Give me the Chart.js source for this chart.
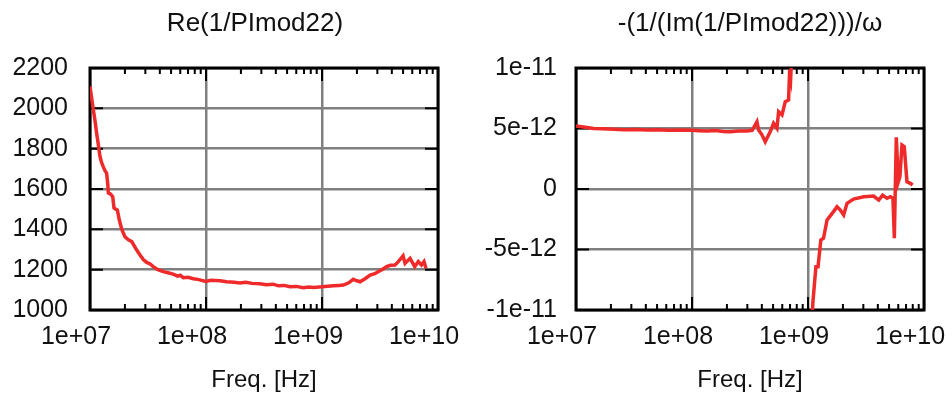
<!DOCTYPE html>
<html>
<head>
<meta charset="utf-8">
<title>PImod22</title>
<script src="https://cdn.jsdelivr.net/npm/chart.js@4/dist/chart.umd.min.js"></script>
<style>
  html, body { margin: 0; padding: 0; background: #fff; }
  #wrap { position: relative; width: 952px; height: 405px; }
  canvas { position: absolute; top: 0; }
  #reChart { left: 0; }
  #imChart { left: 476px; }
</style>
</head>
<body>
<div id="wrap">
  <canvas id="reChart" width="476" height="405"></canvas>
  <canvas id="imChart" width="476" height="405"></canvas>
</div>
<script>
// ---- data ----
const freqTicks = [1e7, 1e8, 1e9, 1e10];
const freqTickLabels = ['1e+07', '1e+08', '1e+09', '1e+10'];

const reTicks = [1000, 1200, 1400, 1600, 1800, 2000, 2200];
const reTickLabels = ['1000', '1200', '1400', '1600', '1800', '2000', '2200'];

const imTicks = [-1e-11, -5e-12, 0, 5e-12, 1e-11];
const imTickLabels = ['-1e-11', '-5e-12', '0', '5e-12', '1e-11'];

// Re(1/PImod22) versus frequency
const reFreq = [
  1.00e7, 1.04e7, 1.07e7, 1.11e7, 1.14e7, 1.18e7, 1.22e7, 1.26e7, 1.30e7, 1.35e7,
  1.39e7, 1.42e7, 1.44e7, 1.50e7, 1.57e7, 1.61e7, 1.67e7, 1.72e7, 1.79e7, 1.88e7,
  2.00e7, 2.12e7, 2.29e7, 2.48e7, 2.70e7, 2.88e7, 3.08e7, 3.30e7, 3.51e7, 3.85e7,
  4.28e7, 4.70e7, 5.20e7, 5.70e7, 6.00e7, 6.37e7, 7.00e7, 7.77e7, 8.50e7, 9.94e7,
  1.10e8, 1.32e8, 1.50e8, 1.75e8, 1.96e8, 2.20e8, 2.50e8, 2.92e8, 3.30e8, 3.80e8,
  4.20e8, 4.70e8, 5.30e8, 6.00e8, 6.90e8, 7.70e8, 8.50e8, 9.94e8, 1.12e9, 1.25e9,
  1.40e9, 1.53e9, 1.70e9, 1.86e9, 2.00e9, 2.13e9, 2.35e9, 2.60e9, 2.85e9, 3.16e9,
  3.40e9, 3.60e9, 3.90e9, 4.26e9, 4.55e9, 5.00e9, 5.20e9, 5.74e9, 6.30e9, 6.76e9,
  7.20e9, 7.57e9, 7.88e9
];
const reValue = [
  2110, 2040, 1990, 1930, 1878, 1820, 1760, 1730, 1711, 1690,
  1679, 1630, 1580, 1575, 1562, 1506, 1500, 1496, 1446, 1400,
  1363, 1350, 1339, 1305, 1273, 1250, 1236, 1228, 1215, 1200,
  1190, 1185, 1178, 1168, 1172, 1160, 1162, 1155, 1152, 1142,
  1147, 1145, 1140, 1138, 1134, 1138, 1132, 1130, 1125, 1128,
  1120, 1122, 1115, 1117, 1110, 1114, 1112, 1115, 1118, 1120,
  1122, 1124, 1135, 1152, 1145, 1140, 1155, 1173, 1180, 1195,
  1205, 1215, 1222, 1223, 1240, 1269, 1231, 1256, 1215, 1240,
  1223, 1240, 1207
];

// -(1/(Im(1/PImod22)))/omega versus frequency (null = break across the pole)
const imFreq = [
  1.00e7, 1.20e7, 1.42e7, 1.70e7, 2.11e7, 2.60e7, 3.20e7, 4.09e7, 5.00e7, 6.20e7,
  7.90e7, 1.00e8, 1.15e8, 1.35e8, 1.60e8, 1.85e8, 2.14e8, 2.50e8, 2.98e8, 3.30e8,
  3.63e8, 3.75e8, 4.00e8, 4.28e8, 4.73e8, 5.05e8, 5.40e8, 5.58e8, 5.97e8, 6.37e8,
  6.80e8, 6.95e8, 7.10e8, 7.40e8, 9.00e8, 1.05e9, 1.10e9, 1.17e9, 1.22e9, 1.29e9,
  1.36e9, 1.46e9, 1.66e9, 1.78e9, 1.90e9, 2.03e9, 2.17e9, 2.47e9, 3.02e9, 3.68e9,
  4.07e9, 4.40e9, 4.80e9, 5.13e9, 5.40e9, 5.55e9, 5.77e9, 6.01e9, 6.20e9, 6.46e9,
  6.76e9, 7.13e9, 7.62e9, 7.98e9
];
const imValue = [
  5.2e-12, 5.1e-12, 5.0e-12, 4.97e-12, 4.93e-12, 4.9e-12, 4.92e-12, 4.88e-12, 4.9e-12, 4.86e-12,
  4.88e-12, 4.85e-12, 4.82e-12, 4.79e-12, 4.83e-12, 4.76e-12, 4.74e-12, 4.8e-12, 4.79e-12, 4.85e-12,
  5.56e-12, 4.88e-12, 4.5e-12, 3.91e-12, 4.74e-12, 5.43e-12, 5.02e-12, 6.39e-12, 6.12e-12, 7.22e-12,
  7.36e-12, 9.83e-12, 9.28e-12, 1.3e-11, null, -1.4e-11, -9.45e-12, -6.42e-12, -6.42e-12, -4.21e-12,
  -4.07e-12, -2.56e-12, -1.87e-12, -1.46e-12, -1.74e-12, -2.15e-12, -1.18e-12, -8.3e-13, -6.4e-13, -5.8e-13,
  -9.1e-13, -5.0e-13, -7.7e-13, -6.4e-13, -7.7e-13, -4.07e-12, 4.27e-12, 6.0e-13, 1.02e-12, 3.64e-12,
  3.5e-12, 6.0e-13, 4.7e-13, 3.3e-13
];

// ---- styling ----
const FONT = '"Liberation Sans", Arial, sans-serif';
const TEXT = '#111';
const GRID = '#808080';
const LINE = '#ee2a2a';
const W = 476, H = 405;

// Frame, inward major/minor ticks and the panel title
const framePlugin = {
  id: 'gpFrame',
  beforeDatasetsDraw(chart) {
    const { ctx, chartArea: a, scales } = chart;
    const x = scales.x, y = scales.y;
    ctx.save();
    ctx.strokeStyle = '#000';
    ctx.lineWidth = 2;
    ctx.lineCap = 'butt';
    ctx.beginPath();
    // major x ticks (top and bottom)
    freqTicks.forEach(v => {
      const px = x.getPixelForValue(v);
      ctx.moveTo(px, a.top); ctx.lineTo(px, a.top + 13);
      ctx.moveTo(px, a.bottom); ctx.lineTo(px, a.bottom - 13);
    });
    // minor x ticks
    for (let d = 0; d < freqTicks.length - 1; d++) {
      for (let k = 2; k <= 9; k++) {
        const px = x.getPixelForValue(k * freqTicks[d]);
        ctx.moveTo(px, a.top); ctx.lineTo(px, a.top + 6);
        ctx.moveTo(px, a.bottom); ctx.lineTo(px, a.bottom - 6);
      }
    }
    // major y ticks (left and right)
    chart.options.plugins.gpFrame.yTicks.forEach(v => {
      const py = y.getPixelForValue(v);
      ctx.moveTo(a.left, py); ctx.lineTo(a.left + 13, py);
      ctx.moveTo(a.right, py); ctx.lineTo(a.right - 13, py);
    });
    ctx.stroke();
    ctx.lineWidth = 3;
    ctx.strokeRect(a.left, a.top, a.right - a.left, a.bottom - a.top);
    ctx.restore();
  },
  afterDraw(chart, args, opts) {
    const { ctx, chartArea: a } = chart;
    ctx.save();
    ctx.font = '26px ' + FONT;
    ctx.fillStyle = TEXT;
    ctx.textAlign = 'center';
    ctx.textBaseline = 'middle';
    ctx.fillText(opts.title, (a.left + a.right) / 2 + opts.titleShift, 24);
    ctx.restore();
  }
};

function noEdgePadding(s) {
  s.paddingLeft = 0; s.paddingRight = 0;
  s.paddingTop = 0; s.paddingBottom = 0;
}

function makeChart(id, cfg) {
  const data = cfg.freq.map((f, i) => ({ x: f, y: cfg.value[i] }));
  return new Chart(document.getElementById(id), {
    type: 'line',
    data: {
      datasets: [{
        data,
        borderColor: LINE,
        borderWidth: 3.5,
        pointRadius: 0,
        tension: 0,
        spanGaps: false,
        fill: false
      }]
    },
    options: {
      responsive: false,
      animation: false,
      devicePixelRatio: 1,
      events: [],
      layout: { padding: { left: 0, top: 68, right: cfg.padRight, bottom: 0 } },
      plugins: {
        legend: { display: false },
        tooltip: { enabled: false },
        gpFrame: { title: cfg.title, titleShift: cfg.titleShift, yTicks: cfg.yTicks }
      },
      scales: {
        x: {
          type: 'logarithmic',
          min: 1e7,
          max: 1e10,
          afterBuildTicks(s) { s.ticks = freqTicks.map(v => ({ value: v })); },
          afterFit(s) { s.height = H - 310; noEdgePadding(s); },
          ticks: {
            autoSkip: false,
            maxRotation: 0,
            padding: 12.5,
            labelOffset: -14,
            color: TEXT,
            font: { family: FONT, size: 25 },
            callback: (v, i) => freqTickLabels[i]
          },
          grid: { color: GRID, lineWidth: 2.5, drawTicks: false },
          border: { display: false },
          title: {
            display: true,
            text: 'Freq. [Hz]',
            color: TEXT,
            font: { family: FONT, size: 24 },
            padding: { top: 0, bottom: 10.5 }
          }
        },
        y: {
          type: 'linear',
          min: cfg.yTicks[0],
          max: cfg.yTicks[cfg.yTicks.length - 1],
          afterBuildTicks(s) { s.ticks = cfg.yTicks.map(v => ({ value: v })); },
          afterFit(s) { s.width = cfg.axisWidth; noEdgePadding(s); },
          ticks: {
            autoSkip: false,
            padding: cfg.yPad,
            color: TEXT,
            font: { family: FONT, size: 25 },
            callback: (v, i) => cfg.yLabels[i]
          },
          grid: { color: GRID, lineWidth: 2.5, drawTicks: false },
          border: { display: false }
        }
      }
    },
    plugins: [framePlugin]
  });
}

makeChart('reChart', {
  freq: reFreq, value: reValue,
  yTicks: reTicks, yLabels: reTickLabels,
  title: 'Re(1/PImod22)', titleShift: -9,
  axisWidth: 90, padRight: W - 438, yPad: 22
});

makeChart('imChart', {
  freq: imFreq, value: imValue,
  yTicks: imTicks, yLabels: imTickLabels,
  title: '-(1/(Im(1/PImod22)))/ω', titleShift: 0,
  axisWidth: 100, padRight: W - 448, yPad: 19
});
</script>
</body>
</html>
